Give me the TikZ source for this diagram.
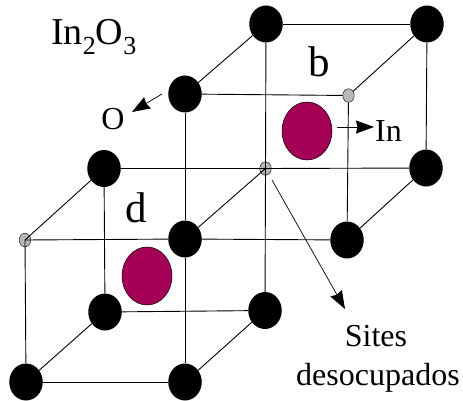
\documentclass[tikz,border=0pt]{standalone}
\usepackage{fontspec}
\setmainfont{Liberation Serif}
\usetikzlibrary{shapes.geometric,arrows.meta}
\tikzset{
  oxygen/.style={ellipse,fill=black,inner sep=0pt,minimum width=33.5pt,minimum height=37pt},
  vacant/.style={ellipse,draw=black,line width=0.4pt,fill=black!28,inner sep=0pt,minimum width=11.5pt,minimum height=13.5pt},
  indium/.style={ellipse,draw=black,line width=0.5pt,fill=indiumred,inner sep=0pt,minimum width=50pt,minimum height=58pt},
  bond/.style={line width=0.9pt},
  pointer/.style={line width=0.7pt,-{Stealth[length=18pt,width=13pt,inset=1.5pt]}},
  label/.style={inner sep=0pt,font=\fontsize{32}{36}\selectfont}
}
\definecolor{indiumred}{RGB}{165,0,85}
\begin{document}
\begin{tikzpicture}[x=1pt,y=-1pt]
\useasboundingbox (0,0) rectangle (463,401);
% sites
\node[vacant] (v1) at (348.5,95.5) {};
\node[vacant] (v2) at (265.5,168.5) {};
\node[vacant] (v3) at (25,240) {};
% upper cell
\node[oxygen] (a1) at (266,24) {};
\node[oxygen] (a2) at (427,24) {};
\node[oxygen] (a3) at (185,94) {};
\node[oxygen] (a4) at (426,168) {};
\node[oxygen] (a5) at (185,239) {};
\node[oxygen] (a6) at (347,240) {};
% lower cell
\node[oxygen] (b1) at (104,168.5) {};
\node[oxygen] (b2) at (105,312) {};
\node[oxygen] (b3) at (265,310.5) {};
\node[oxygen] (b4) at (26,382) {};
\node[oxygen] (b5) at (185,382) {};
\draw[bond] (a1) -- (a2);
\draw[bond] (a1) -- (a3);
\draw[bond] (a2) -- (v1);
\draw[bond] (a3) -- (v1);
\draw[bond] (a2) -- (a4);
\draw[bond] (v1) -- (a6);
\draw[bond] (a3) -- (a5);
\draw[bond] (a1) -- (v2.center);
\draw[bond] (v2.center) -- (a4);
\draw[bond] (v2.center) -- (a5);
\draw[bond] (a4) -- (a6);
\draw[bond] (a5) -- (a6);
\draw[bond] (b1) -- (v2.center);
\draw[bond] (b1) -- (v3.center);
\draw[bond] (v3.center) -- (a5);
\draw[bond] (b1) -- (b2);
\draw[bond] (v2.center) -- (b3);
\draw[bond] (v3.center) -- (b4);
\draw[bond] (a5) -- (b5);
\draw[bond] (b2) -- (b3);
\draw[bond] (b2) -- (b4);
\draw[bond] (b3) -- (b5);
\draw[bond] (b4) -- (b5);
\node[indium] (c1) at (307,131) {};
\node[indium] (c2) at (147,276) {};
% labels
\node[inner sep=0pt,anchor=base west,font=\fontsize{38}{40}\selectfont] (title) at (51,45) {In\raisebox{-10pt}{\fontsize{26}{28}\selectfont 2}O\raisebox{-10pt}{\fontsize{26}{28}\selectfont 3}};
\node[inner sep=0pt,anchor=base,font=\fontsize{43}{44}\selectfont] (lb) at (319,77) {b};
\node[inner sep=0pt,anchor=base,font=\fontsize{43}{44}\selectfont] (ld) at (136,222) {d};
\node[label,anchor=base] (lo) at (113,130) {O};
\node[label,anchor=base west] (lin) at (375,142) {In};
\node[label,anchor=base] (ls) at (376,346) {Sites};
\node[label,anchor=base] (ld2) at (378,385) {desocupados};
\coordinate (p1) at (162,94);
\coordinate (p2) at (132,112);
\coordinate (p3) at (337,127);
\coordinate (p4) at (374,127);
\coordinate (p5) at (272,180);
\coordinate (p6) at (345,309);
\draw[pointer] (p1) -- (p2);
\draw[pointer] (p3) -- (p4);
\draw[pointer] (p5) -- (p6);
\end{tikzpicture}
\end{document}
